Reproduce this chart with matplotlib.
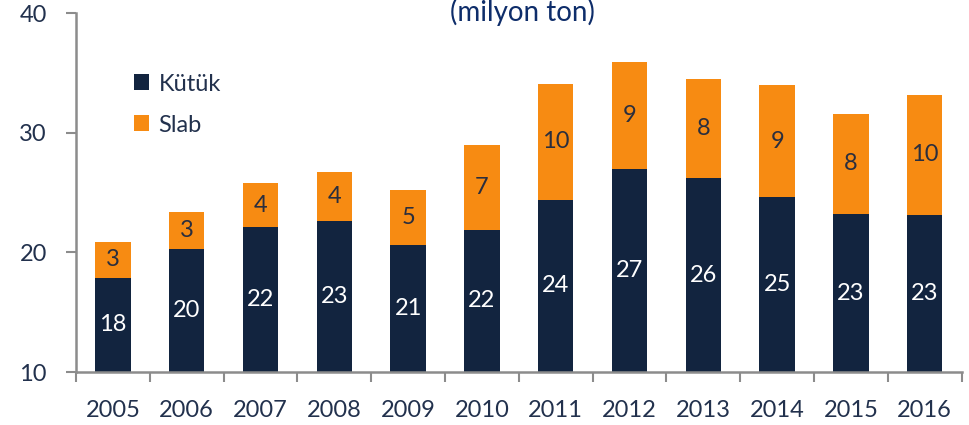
import matplotlib.pyplot as plt
import numpy as np

# values (milyon ton)
years = ['2005', '2006', '2007', '2008', '2009', '2010',
         '2011', '2012', '2013', '2014', '2015', '2016']
kutuk = [17.9, 20.3, 22.1, 22.6, 20.6, 21.9, 24.4, 27.0, 26.2, 24.6, 23.2, 23.1]
slab = [3.0, 3.1, 3.7, 4.1, 4.6, 7.1, 9.7, 8.9, 8.3, 9.4, 8.4, 10.1]

navy = '#12243F'
orange = '#F78B12'
text_col = '#22314D'

plt.rcParams['font.family'] = ['Lato', 'DejaVu Sans']

fig = plt.figure(figsize=(9.7, 4.25), dpi=100)
ax = fig.add_axes([0.0784, 0.1247, 0.9130, 0.8440])

x = np.arange(len(years))
ymin = 10
ax.bar(x, kutuk, width=0.48, color=navy, label='Kütük', linewidth=0)
ax.bar(x, slab, width=0.48, bottom=kutuk, color=orange, label='Slab', linewidth=0)

for xi, k, s in zip(x, kutuk, slab):
    ax.text(xi, (ymin + k) / 2, f'{k:.0f}', ha='center', va='center',
            color='white', fontsize=17)
    ax.text(xi, k + s / 2, f'{s:.0f}', ha='center', va='center',
            color='#2A2E3E', fontsize=17)

ax.set_ylim(ymin, 40)
ax.set_xlim(-0.5, len(years) - 0.5)
ax.set_yticks([10, 20, 30, 40])

# category ticks sit between the bars
ax.set_xticks(np.arange(-0.5, len(years)), minor=False)
ax.set_xticklabels([])
ax.set_xticks(x, minor=True)
ax.set_xticklabels(years, minor=True)
ax.tick_params(axis='x', which='major', length=7, width=1.5, color='#8C8C8C', direction='out')
ax.tick_params(axis='x', which='minor', length=0, pad=20, labelsize=17, labelcolor=text_col)
ax.tick_params(axis='y', length=7, width=1.5, color='#8C8C8C', pad=14,
               labelsize=17, labelcolor=text_col)

for side in ['top', 'right']:
    ax.spines[side].set_visible(False)
for side in ['left', 'bottom']:
    ax.spines[side].set_color('#8C8C8C')
    ax.spines[side].set_linewidth(1.8)

leg = ax.legend(loc='upper left', bbox_to_anchor=(0.052, 0.865), frameon=False,
                fontsize=17, handlelength=0.65, handleheight=0.65,
                handletextpad=0.4, labelspacing=0.85, borderpad=0)
for t in leg.get_texts():
    t.set_color(text_col)

fig.text(0.539, 0.972, '(milyon ton)', ha='center', va='center',
         fontsize=20, color='#0E2D6A')

fig.savefig('out.png', dpi=100)
